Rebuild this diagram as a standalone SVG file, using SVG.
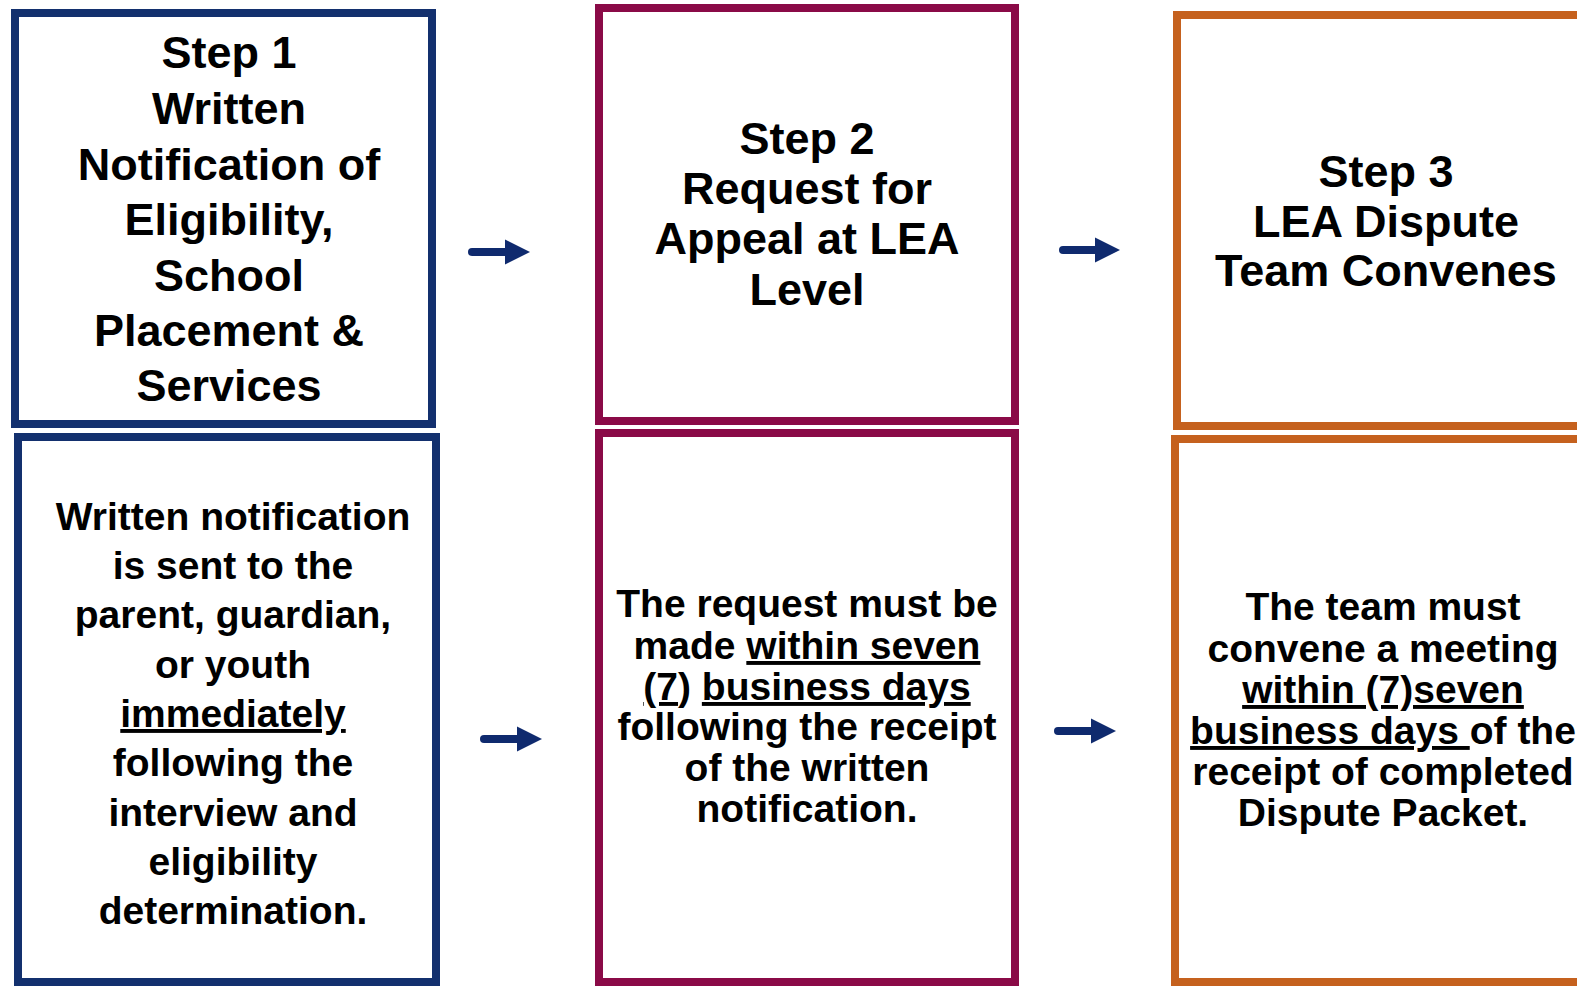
<svg xmlns="http://www.w3.org/2000/svg" width="1577" height="986" viewBox="0 0 1577 986">
<defs>
<style>
.box{fill:#ffffff;stroke-width:8}
.b1{stroke:#13306e}
.b2{stroke:#8a0a47}
.b3{stroke:#c5611e}
.t{font-family:"Liberation Sans",Arial,sans-serif;font-weight:bold;fill:#000;text-anchor:middle}
.h{font-size:45px}
.d{font-size:39px}
.u{text-decoration:underline}
.arr{stroke:#0f2a6e;stroke-width:8;stroke-linecap:round;fill:none;marker-end:url(#head)}
</style>
<marker id="head" markerUnits="userSpaceOnUse" markerWidth="26" markerHeight="26" viewBox="0 -13 26 26" refX="1" refY="0" orient="auto">
<path d="M0,-12.5 L25,0 L0,12.5 Z" fill="#0f2a6e"/>
</marker>
</defs>
<rect width="1577" height="986" fill="#ffffff"/>

<g id="step1">
<rect class="box b1" x="15" y="13" width="417" height="411"/>
<text class="t h" x="229"><tspan x="229" y="68">Step 1</tspan><tspan x="229" y="124">Written</tspan><tspan x="229" y="180">Notification of</tspan><tspan x="229" y="235">Eligibility,</tspan><tspan x="229" y="291">School</tspan><tspan x="229" y="346">Placement &amp;</tspan><tspan x="229" y="401">Services</tspan></text>
</g>

<g id="step1-detail">
<rect class="box b1" x="18" y="437" width="418" height="545"/>
<text class="t d"><tspan x="233" y="530">Written notification</tspan><tspan x="233" y="579">is sent to the</tspan><tspan x="233" y="628">parent, guardian,</tspan><tspan x="233" y="678">or youth</tspan><tspan x="233" y="727" class="u">immediately</tspan><tspan x="233" y="776">following the</tspan><tspan x="233" y="826">interview and</tspan><tspan x="233" y="875">eligibility</tspan><tspan x="233" y="924">determination.</tspan></text>
</g>

<g id="step2">
<rect class="box b2" x="599" y="8" width="416" height="413"/>
<text class="t h"><tspan x="807" y="154">Step 2</tspan><tspan x="807" y="204">Request for</tspan><tspan x="807" y="254">Appeal at LEA</tspan><tspan x="807" y="305">Level</tspan></text>
</g>

<g id="step2-detail">
<rect class="box b2" x="599" y="433" width="416" height="549"/>
<text class="t d"><tspan x="807" y="617">The request must be</tspan><tspan x="807" y="659">made <tspan class="u">within seven</tspan></tspan><tspan x="807" y="700"><tspan class="u">(7</tspan>) <tspan class="u">business days</tspan></tspan><tspan x="807" y="740">following the receipt</tspan><tspan x="807" y="781">of the written</tspan><tspan x="807" y="822">notification.</tspan></text>
</g>

<g id="step3">
<rect class="box b3" x="1177" y="15" width="430" height="411"/>
<text class="t h"><tspan x="1386" y="187">Step 3</tspan><tspan x="1386" y="237">LEA Dispute</tspan><tspan x="1386" y="286">Team Convenes</tspan></text>
</g>

<g id="step3-detail">
<rect class="box b3" x="1175" y="439" width="430" height="543"/>
<text class="t d"><tspan x="1383" y="620">The team must</tspan><tspan x="1383" y="662">convene a meeting</tspan><tspan x="1383" y="703" class="u">within (7)seven</tspan><tspan x="1383" y="744"><tspan class="u">business days </tspan>of the</tspan><tspan x="1383" y="785">receipt of completed</tspan><tspan x="1383" y="826">Dispute Packet.</tspan></text>
</g>

<g id="connectors">
<path class="arr" d="M472,252 L506,252"/>
<path class="arr" d="M1063,250 L1096,250"/>
<path class="arr" d="M484,739 L518,739"/>
<path class="arr" d="M1058,731 L1092,731"/>
</g>
</svg>
